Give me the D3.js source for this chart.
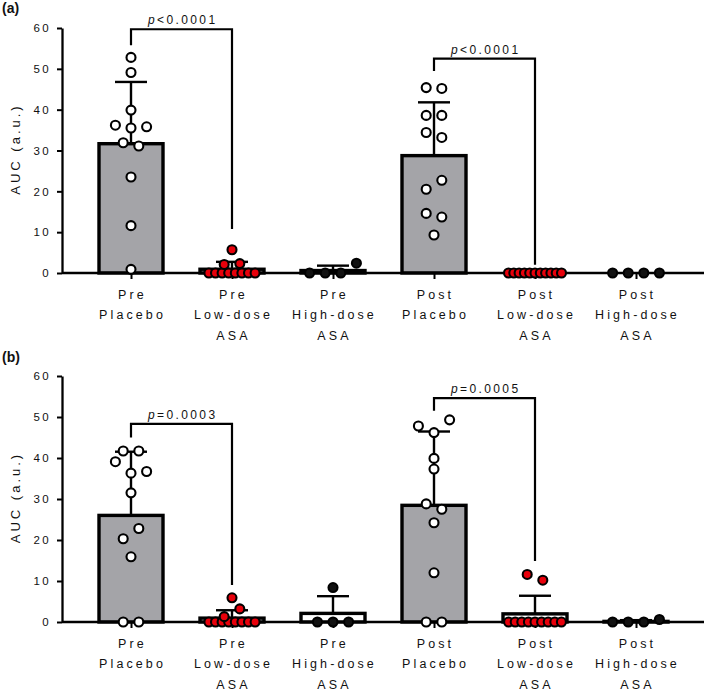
<!DOCTYPE html>
<html>
<head>
<meta charset="utf-8">
<script src="https://cdn.jsdelivr.net/npm/d3@7"></script>
<style>
  body { margin: 0; background: #fff; }
  text { font-family: "Liberation Sans", Arial, Helvetica, sans-serif; fill: #111; }
</style>
</head>
<body>
<script>
// x categories, one entry per label line
var categories = [
  ["Pre", "Placebo"],
  ["Pre", "Low-dose", "ASA"],
  ["Pre", "High-dose", "ASA"],
  ["Post", "Placebo"],
  ["Post", "Low-dose", "ASA"],
  ["Post", "High-dose", "ASA"]
];
var groupKind = ["placebo", "low", "high", "placebo", "low", "high"];
var yTicks = [0, 10, 20, 30, 40, 50, 60];

// individual AUC values, panel (a)
var prePlaceboA  = [52.8, 49.1, 39.9, 36.2, 35.5, 35.8, 31.9, 31.1, 23.5, 11.6, 0.9];
var preLowA      = [5.7, 2.1, 2.3, 0, 0, 0, 0, 0, 0, 0, 0];
var preHighA     = [0, 0, 0, 2.4];
var postPlaceboA = [45.4, 45.2, 38.6, 38.6, 34.4, 33.2, 20.5, 22.7, 14.6, 13.7, 9.3];
var postLowA     = [0, 0, 0, 0, 0, 0, 0, 0, 0, 0, 0];
var postHighA    = [0, 0, 0, 0];

// individual AUC values, panel (b)
var prePlaceboB  = [41.7, 41.7, 39.1, 36.3, 36.7, 31.5, 20.3, 22.8, 15.9, 0, 0];
var preLowB      = [5.9, 1.3, 3.2, 0, 0, 0, 0, 0, 0, 0, 0];
var preHighB     = [8.4, 0, 0, 0];
var postPlaceboB = [47.8, 46.2, 49.3, 39.9, 37.3, 28.8, 27.5, 24.2, 12.0, 0, 0];
var postLowB     = [11.6, 10.2, 0, 0, 0, 0, 0, 0, 0, 0, 0];
var postHighB    = [0, 0, 0, 0.6];

// significance brackets (values in AUC units)
var bracketsA = [
  {from: 0, to: 1, top: 59.7, leftEnd: 55.8, rightEnd: 10.8, op: "<", p: "0.0001"},
  {from: 3, to: 4, top: 52.5, leftEnd: 49.5, rightEnd: 2.0, op: "<", p: "0.0001"}
];
var bracketsB = [
  {from: 0, to: 1, top: 48.3, leftEnd: 45.0, rightEnd: 9.0, op: "=", p: "0.0003"},
  {from: 3, to: 4, top: 54.6, leftEnd: 51.5, rightEnd: 14.9, op: "=", p: "0.0005"}
];

var panels = [
  {name: "(a)", nameY: 13, top: 28, bottom: 273,
   groups: [prePlaceboA, preLowA, preHighA, postPlaceboA, postLowA, postHighA], brackets: bracketsA},
  {name: "(b)", nameY: 362, top: 376, bottom: 622,
   groups: [prePlaceboB, preLowB, preHighB, postPlaceboB, postLowB, postHighB], brackets: bracketsB}
];

var svg = d3.select("body").append("svg")
  .attr("width", 709)
  .attr("height", 690);

var x = d3.scalePoint().domain(d3.range(categories.length)).range([131, 636]);
var axisX = 62, axisRight = 704, barW = 64;

var barFill = {placebo: "#a4a4a8", low: "#fff", high: "#fff"};
var dotFill = {placebo: "#fff", low: "#e8000b", high: "#111"};

// PRISM-like scatter: neighbouring values share a row and are spread sideways
function layoutRow(vals, y) {
  var order = d3.range(vals.length).sort(function(a, b) { return vals[a] - vals[b] || a - b; });
  var rows = [], cur = null;
  order.forEach(function(i) {
    if (cur) {
      var last = vals[cur[cur.length - 1]];
      var gap = Math.abs(y(last) - y(vals[i]));
      if (vals[i] === last || (gap < 10.5 && cur.length < 4)) { cur.push(i); return; }
    }
    cur = [i];
    rows.push(cur);
  });
  var out = [];
  rows.forEach(function(r) {
    r.sort(d3.ascending);
    var n = r.length;
    var step = n <= 4 ? 15.6 : Math.min(6.6, 53 / (n - 1));
    r.forEach(function(i, k) { out.push({v: vals[i], dx: (k - (n - 1) / 2) * step}); });
  });
  return out;
}

panels.forEach(function(p) {
  var g = svg.append("g");
  var y = d3.scaleLinear().domain([0, 60]).range([p.bottom, p.top]);

  g.append("text")
    .attr("x", 2).attr("y", p.nameY)
    .style("font-size", "14px").style("font-weight", "bold")
    .text(p.name);

  // bars (mean)
  p.groups.forEach(function(vals, i) {
    var m = d3.mean(vals);
    g.append("rect")
      .attr("x", x(i) - barW / 2)
      .attr("y", y(m))
      .attr("width", barW)
      .attr("height", y(0) - y(m))
      .attr("fill", barFill[groupKind[i]])
      .attr("stroke", "#000")
      .attr("stroke-width", 3.4);
  });

  // y axis
  var yAxis = g.append("g")
    .attr("transform", "translate(" + axisX + ",0)")
    .call(d3.axisLeft(y).tickValues(yTicks).tickSize(5).tickPadding(6).tickSizeOuter(0));
  yAxis.select(".domain").attr("stroke", "#000").attr("stroke-width", 2.3);
  yAxis.selectAll(".tick line").attr("stroke", "#000").attr("stroke-width", 2);
  yAxis.selectAll(".tick text")
    .style("font-size", "11.5px").style("letter-spacing", "2.4px")
    .style("font-family", "'Liberation Sans', Arial, sans-serif").attr("fill", "#111");

  g.append("text")
    .attr("transform", "translate(20," + (p.top + p.bottom) / 2 + ") rotate(-90)")
    .attr("text-anchor", "middle")
    .attr("dx", 1.5)
    .style("font-size", "13px").style("letter-spacing", "3px")
    .text("AUC (a.u.)");

  // x axis
  g.append("line")
    .attr("x1", axisX).attr("x2", axisRight)
    .attr("y1", y(0)).attr("y2", y(0))
    .attr("stroke", "#000").attr("stroke-width", 2.3);
  var xAxis = g.append("g")
    .attr("transform", "translate(0," + y(0) + ")")
    .call(d3.axisBottom(x).tickSize(6).tickSizeOuter(0).tickFormat(""));
  xAxis.select(".domain").remove();
  xAxis.selectAll(".tick line").attr("stroke", "#000").attr("stroke-width", 2);

  categories.forEach(function(lines, i) {
    var t = g.append("text")
      .attr("text-anchor", "middle")
      .style("font-size", "12.5px").style("letter-spacing", "3.1px");
    lines.forEach(function(s, k) {
      t.append("tspan")
        .attr("x", x(i) + 1.5)
        .attr("y", y(0) + 25.5 + k * 20.5)
        .text(s);
    });
  });

  // error bars (mean + SD)
  p.groups.forEach(function(vals, i) {
    var m = d3.mean(vals), sd = d3.deviation(vals) || 0;
    if (sd <= 0) return;
    g.append("line")
      .attr("x1", x(i)).attr("x2", x(i))
      .attr("y1", y(m)).attr("y2", y(m + sd))
      .attr("stroke", "#000").attr("stroke-width", 2.4);
    g.append("line")
      .attr("x1", x(i) - 16).attr("x2", x(i) + 16)
      .attr("y1", y(m + sd)).attr("y2", y(m + sd))
      .attr("stroke", "#000").attr("stroke-width", 2.4);
  });

  // individual points
  p.groups.forEach(function(vals, i) {
    g.append("g").selectAll("circle")
      .data(layoutRow(vals, y))
      .join("circle")
      .attr("cx", function(d) { return x(i) + d.dx; })
      .attr("cy", function(d) { return y(d.v); })
      .attr("r", 4.5)
      .attr("fill", dotFill[groupKind[i]])
      .attr("stroke", "#000")
      .attr("stroke-width", 2.1);
  });

  // significance brackets
  p.brackets.forEach(function(b) {
    var x1 = x(b.from), x2 = x(b.to);
    g.append("path")
      .attr("d", d3.line()([[x1, y(b.leftEnd)], [x1, y(b.top)], [x2, y(b.top)], [x2, y(b.rightEnd)]]))
      .attr("fill", "none")
      .attr("stroke", "#000")
      .attr("stroke-width", 2.2);
    var t = g.append("text")
      .attr("x", (x1 + x2) / 2 + 1.2)
      .attr("y", y(b.top) - 5)
      .attr("text-anchor", "middle")
      .style("font-size", "12px").style("letter-spacing", "2.4px");
    t.append("tspan").style("font-style", "italic").text("p");
    t.append("tspan").text(b.op + b.p);
  });
});
</script>
</body>
</html>
